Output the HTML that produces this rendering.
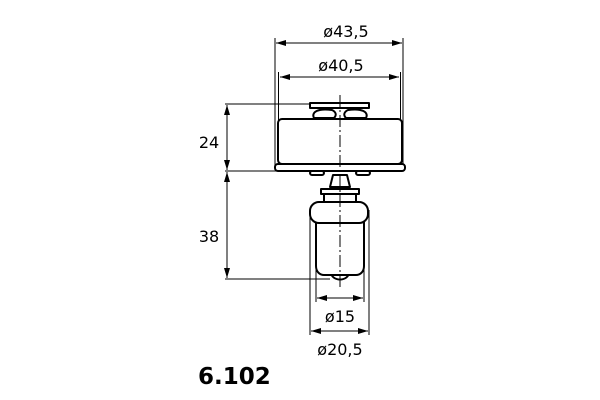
<!DOCTYPE html>
<html><head><style>body{margin:0;background:#fff}svg{display:block}</style></head>
<body>
<svg width="600" height="400" viewBox="0 0 600 400" xmlns="http://www.w3.org/2000/svg" font-family="'DejaVu Sans','Liberation Sans',sans-serif">
<defs>
<marker id="a" viewBox="0 0 10 6" refX="10" refY="3" markerWidth="10" markerHeight="6" orient="auto-start-reverse" markerUnits="userSpaceOnUse"><path d="M0,0L10,3L0,6z" fill="#000"/></marker>
</defs>
<g stroke="#000" stroke-width="1" fill="none">
<line x1="275" y1="38" x2="275" y2="170"/>
<line x1="403" y1="38" x2="403" y2="170"/>
<line x1="278.5" y1="72" x2="278.5" y2="165"/>
<line x1="400.5" y1="72" x2="400.5" y2="165"/>
<line x1="276" y1="43" x2="402" y2="43" marker-start="url(#a)" marker-end="url(#a)"/>
<line x1="280" y1="77" x2="399" y2="77" marker-start="url(#a)" marker-end="url(#a)"/>
<line x1="225" y1="104" x2="320" y2="104"/>
<line x1="225" y1="171" x2="276" y2="171"/>
<line x1="225" y1="279" x2="330" y2="279"/>
<line x1="227" y1="105" x2="227" y2="170" marker-start="url(#a)" marker-end="url(#a)"/>
<line x1="227" y1="172" x2="227" y2="278" marker-start="url(#a)" marker-end="url(#a)"/>
<line x1="316" y1="225" x2="316" y2="302"/>
<line x1="364" y1="225" x2="364" y2="302"/>
<line x1="310" y1="210" x2="310" y2="335"/>
<line x1="369" y1="210" x2="369" y2="335"/>
<line x1="317" y1="298" x2="363" y2="298" marker-start="url(#a)" marker-end="url(#a)"/>
<line x1="311" y1="331" x2="368" y2="331" marker-start="url(#a)" marker-end="url(#a)"/>
</g>
<g stroke="#000" stroke-width="2" fill="#fff" stroke-linejoin="round">
<rect x="310" y="103" width="59" height="5"/>
<path d="M314,118 C311,112 318,108 332,110 C336,112 337,115 334,118 Z"/>
<path d="M346,118 C343,115 344,112 348,110 C362,108 369,112 366,118 Z"/>
<rect x="278" y="119" width="124" height="45" rx="4"/>
<rect x="275" y="164" width="130" height="7" rx="3"/>
<rect x="310" y="171" width="14" height="4" rx="2"/>
<rect x="356" y="171" width="14" height="4" rx="2"/>
<path d="M333,175 L330,187 L350,187 L347,175 Z"/>
<rect x="321" y="189" width="38" height="5"/>
<rect x="324" y="194" width="32" height="8"/>
<path d="M331,272 C331,282 349,282 349,272"/>
<path d="M316,222 L316,266 C316,272 320,275 324,275 L356,275 C360,275 364,272 364,266 L364,222"/>
<rect x="310" y="202" width="58" height="21" rx="9"/>
</g>
<line x1="340" y1="95" x2="340" y2="288" stroke="#000" stroke-width="1" stroke-dasharray="12,3,2,3"/>
<g font-size="16" fill="#000" text-anchor="middle">
<text x="346" y="37">ø43,5</text>
<text x="341" y="71">ø40,5</text>
<text x="209" y="148">24</text>
<text x="209" y="242">38</text>
<text x="340" y="322">ø15</text>
<text x="340" y="355">ø20,5</text>
</g>
<text x="198" y="384" font-size="23" font-weight="bold" font-family="'DejaVu Sans',sans-serif">6.102</text>
</svg>
</body></html>
